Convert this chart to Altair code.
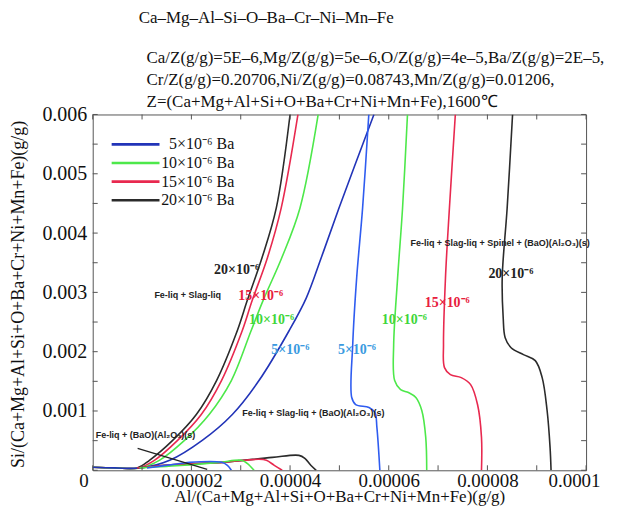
import altair as alt
import pandas as pd

# ---------------- data ----------------
S5, S10, S15, S20, S5B = "5", "10", "15", "20", "5b"

# Fe-liq + Slag-liq boundary (left family), bottom -> top
left20_x = [0.0, 4.5e-6, 9.0e-6, 11.5e-6, 16.2e-6, 21.0e-6, 25.1e-6, 29.3e-6, 31.3e-6, 34.3e-6, 37.2e-6, 40.0e-6]
left20_y = [5e-5, 4e-5, 4e-5, 1.68e-4, 5.04e-4, 9.41e-4, 1.513e-3, 2.353e-3, 2.857e-3, 3.58e-3, 4.42e-3, 6.0e-3]
left15_x = [0.0, 4.5e-6, 9.3e-6, 12.5e-6, 17.2e-6, 22.0e-6, 26.1e-6, 30.3e-6, 32.3e-6, 35.4e-6, 38.2e-6, 41.6e-6]
left15_y = [5e-5, 4e-5, 4e-5, 1.68e-4, 5.04e-4, 9.41e-4, 1.513e-3, 2.353e-3, 2.857e-3, 3.58e-3, 4.42e-3, 6.0e-3]
left10_x = [0.0, 4.5e-6, 9.6e-6, 13.5e-6, 18.6e-6, 23.6e-6, 28.1e-6, 32.1e-6, 34.5e-6, 38.3e-6, 42.0e-6, 45.7e-6]
left10_y = [5e-5, 4e-5, 4e-5, 1.68e-4, 5.04e-4, 9.41e-4, 1.513e-3, 2.353e-3, 2.857e-3, 3.58e-3, 4.42e-3, 6.0e-3]
left5_x = [0.0, 4.5e-6, 9.8e-6, 15.6e-6, 22.2e-6, 28.3e-6, 33.7e-6, 39.8e-6, 43.3e-6, 46.3e-6, 49.9e-6, 57.0e-6]
left5_y = [5e-5, 4e-5, 4e-5, 1.68e-4, 5.04e-4, 9.41e-4, 1.513e-3, 2.353e-3, 2.908e-3, 3.58e-3, 4.42e-3, 6.0e-3]

# spinel boundary (right family), top -> bottom
right5_x = [55.96e-6, 54.7e-6, 53.5e-6, 52.7e-6, 52.5e-6, 53.3e-6, 56.0e-6, 57.2e-6, 57.6e-6, 58.2e-6]
right5_y = [6.0e-3, 4.42e-3, 3.244e-3, 2.118e-3, 1.227e-3, 1.109e-3, 1.059e-3, 0.975e-3, 0.723e-3, 0.0]
right10_x = [63.8e-6, 62.8e-6, 61.8e-6, 61.0e-6, 61.2e-6, 62.4e-6, 64.0e-6, 65.5e-6, 66.7e-6, 67.5e-6, 67.7e-6]
right10_y = [6.0e-3, 4.42e-3, 3.244e-3, 2.118e-3, 1.513e-3, 1.361e-3, 1.311e-3, 1.227e-3, 1.008e-3, 0.555e-3, 0.0]
right15_x = [73.5e-6, 72.3e-6, 71.5e-6, 71.1e-6, 71.3e-6, 72.5e-6, 74.7e-6, 76.6e-6, 78.0e-6, 78.8e-6, 78.8e-6]
right15_y = [6.0e-3, 4.42e-3, 3.244e-3, 2.118e-3, 1.731e-3, 1.613e-3, 1.563e-3, 1.445e-3, 1.109e-3, 0.555e-3, 0.0]
right20_x = [85.1e-6, 84.0e-6, 83.0e-6, 83.2e-6, 83.6e-6, 84.8e-6, 87.3e-6, 89.7e-6, 91.1e-6, 92.1e-6, 92.7e-6, 92.9e-6]
right20_y = [6.0e-3, 4.42e-3, 3.244e-3, 2.571e-3, 2.235e-3, 2.067e-3, 1.95e-3, 1.849e-3, 1.563e-3, 1.008e-3, 0.387e-3, 0.0]

# (BaO)(Al2O3) boundary near the bottom, left -> right
bot20_x = [9.0e-6, 17.6e-6, 26.3e-6, 36.4e-6, 41.8e-6, 43.0e-6, 44.2e-6, 45.3e-6]
bot20_y = [4e-5, 1.01e-4, 1.34e-4, 2.18e-4, 2.52e-4, 2.02e-4, 0.84e-4, 0.0]
bot15_x = [9.0e-6, 17.6e-6, 26.3e-6, 33.7e-6, 35.2e-6, 36.8e-6, 38.4e-6]
bot15_y = [4e-5, 1.01e-4, 1.34e-4, 1.85e-4, 1.68e-4, 0.84e-4, 0.0]
bot10_x = [9.5e-6, 18.6e-6, 25.7e-6, 30.1e-6, 31.3e-6, 32.7e-6]
bot10_y = [4e-5, 0.84e-4, 1.34e-4, 1.68e-4, 1.18e-4, 0.0]
bot5_x = [11.0e-6, 16.6e-6, 19.6e-6, 26.1e-6, 27.3e-6, 28.1e-6]
bot5_y = [4e-5, 1.01e-4, 1.34e-4, 1.34e-4, 0.84e-4, 0.0]

# leader line to "Fe-liq + (BaO)(Al2O3)(s)"
leader_x = [9.1e-6, 23.2e-6]
leader_y = [0.37e-3, 0.017e-3]

# Ba labels on the curves
ba_text = ["20×10⁻⁶", "15×10⁻⁶", "10×10⁻⁶", "5×10⁻⁶", "5×10⁻⁶", "10×10⁻⁶", "15×10⁻⁶", "20×10⁻⁶"]
ba_series = [S20, S15, S10, S5, S5, S10, S15, S20]
ba_x = [24.6e-6, 29.5e-6, 31.7e-6, 36.2e-6, 49.7e-6, 58.6e-6, 67.3e-6, 80.2e-6]
ba_y = [3.38e-3, 2.94e-3, 2.54e-3, 2.03e-3, 2.03e-3, 2.54e-3, 2.82e-3, 3.31e-3]

# phase region labels
phase_text = ["Fe-liq + Slag-liq",
              "Fe-liq + Slag-liq + (BaO)(Al₂O₃)(s)",
              "Fe-liq + (BaO)(Al₂O₃)(s)",
              "Fe-liq + Slag-liq + Spinel + (BaO)(Al₂O₃)(s)"]
phase_x = [12.5e-6, 30.3e-6, 0.6e-6, 64.4e-6]
phase_y = [2.96e-3, 0.958e-3, 0.588e-3, 3.83e-3]

legend_labels = ["5×10⁻⁶  Ba", "10×10⁻⁶ Ba", "15×10⁻⁶ Ba", "20×10⁻⁶ Ba"]
legend_series = [S5, S10, S15, S20]

x_label_vals = [0.0, 0.00002, 0.00004, 0.00006, 0.00008, 0.0001]
y_label_vals = [0.001, 0.002, 0.003, 0.004, 0.005, 0.006]
x_minor = [0.0, 0.00001, 0.00002, 0.00003, 0.00004, 0.00005, 0.00006, 0.00007, 0.00008, 0.00009, 0.0001]
y_minor = [0.0, 0.0005, 0.001, 0.0015, 0.002, 0.0025, 0.003, 0.0035, 0.004, 0.0045, 0.005, 0.0055, 0.006]

title_text = "Ca–Mg–Al–Si–O–Ba–Cr–Ni–Mn–Fe"
sub_lines = ["Ca/Z(g/g)=5E–6,Mg/Z(g/g)=5e–6,O/Z(g/g)=4e–5,Ba/Z(g/g)=2E–5,",
             "Cr/Z(g/g)=0.20706,Ni/Z(g/g)=0.08743,Mn/Z(g/g)=0.01206,",
             "Z=(Ca+Mg+Al+Si+O+Ba+Cr+Ni+Mn+Fe),1600℃"]
x_title = "Al/(Ca+Mg+Al+Si+O+Ba+Cr+Ni+Mn+Fe)(g/g)"
y_title = "Si/(Ca+Mg+Al+Si+O+Ba+Cr+Ni+Mn+Fe)(g/g)"

# ---------------- build tables ----------------
curves = [
    ("L20", S20, left20_x, left20_y), ("L15", S15, left15_x, left15_y),
    ("L10", S10, left10_x, left10_y), ("L5", S5, left5_x, left5_y),
    ("R5", S5B, right5_x, right5_y), ("R10", S10, right10_x, right10_y),
    ("R15", S15, right15_x, right15_y), ("R20", S20, right20_x, right20_y),
    ("B20", S20, bot20_x, bot20_y), ("B15", S15, bot15_x, bot15_y),
    ("B10", S10, bot10_x, bot10_y), ("B5", S5B, bot5_x, bot5_y),
]
rows = []
for cid, ser, xs_, ys_ in curves:
    for i, (xv, yv) in enumerate(zip(xs_, ys_)):
        rows.append({"x": xv, "y": yv, "curve": cid, "series": ser, "ord": i})
df = pd.DataFrame(rows)

W, H = 495, 357
TOP = 106
SERIF = "Liberation Serif"
SANS = "Liberation Sans"
FRAME = "#555555"

line_colors = {S5: "#2234b8", S10: "#4de84a", S15: "#e8294f", S20: "#2b2b2b", S5B: "#2f5cf0"}
label_colors = {S5: "#3a9ae0", S10: "#3fd63a", S15: "#e8203c", S20: "#222222"}

xs = alt.Scale(domain=[0, 0.0001], nice=False, zero=False)
ys = alt.Scale(domain=[0, 0.006], nice=False, zero=False)

X_AX = alt.Axis(values=x_label_vals, format=".5~f", title=x_title, titleY=31, titleFontSize=17,
                titleBaseline="alphabetic", labelFlush=True, labelFlushOffset=14,
                labelPadding=1, labelFontSize=19)
Y_AX = alt.Axis(values=y_label_vals, format=".3~f", title=y_title, titleX=-74, titleY=180,
                titleFontSize=18, titleBaseline="middle", labelFlush=False)


def X(field):
    return alt.X(field, scale=xs, axis=X_AX)


def Y(field):
    return alt.Y(field, scale=ys, axis=Y_AX)


lines = alt.Chart(df).mark_line(strokeWidth=1.6, interpolate="catmull-rom", clip=True).encode(
    x=X("x:Q"),
    y=Y("y:Q"),
    color=alt.Color("series:N", scale=alt.Scale(domain=list(line_colors.keys()),
                                                range=list(line_colors.values())), legend=None),
    detail="curve:N",
    order="ord:Q",
)

leader = alt.Chart(pd.DataFrame({"x": leader_x, "y": leader_y})).mark_line(
    color="#222222", strokeWidth=1.3).encode(x=X("x:Q"), y=Y("y:Q"))

layers = [lines, leader]

ba_df = pd.DataFrame({"t": ba_text, "s": ba_series, "x": ba_x, "y": ba_y})
for s, col in label_colors.items():
    layers.append(alt.Chart(ba_df[ba_df.s == s]).mark_text(
        font=SERIF, fontSize=14, fontWeight="bold", color=col, align="left", baseline="middle").encode(
        x=X("x:Q"), y=Y("y:Q"), text="t:N"))

ph_df = pd.DataFrame({"t": phase_text, "x": phase_x, "y": phase_y})
layers.append(alt.Chart(ph_df).mark_text(
    font=SANS, fontSize=9, fontWeight="bold", color="#222222", align="left", baseline="middle").encode(
    x=X("x:Q"), y=Y("y:Q"), text="t:N"))

# inward ticks on all four sides
xm = pd.DataFrame({"x": x_minor})
ym = pd.DataFrame({"y": y_minor})
layers.append(alt.Chart(xm).mark_rule(color=FRAME).encode(
    x=X("x:Q"), y=alt.value(H), y2=alt.value(H - 5)))
layers.append(alt.Chart(xm).mark_rule(color=FRAME).encode(
    x=X("x:Q"), y=alt.value(0), y2=alt.value(5)))
layers.append(alt.Chart(ym).mark_rule(color=FRAME).encode(
    y=Y("y:Q"), x=alt.value(0), x2=alt.value(5)))
layers.append(alt.Chart(ym).mark_rule(color=FRAME).encode(
    y=Y("y:Q"), x=alt.value(W), x2=alt.value(W - 5)))

# legend (drawn by hand, top-left inside the plot); page y of first entry = 144
for i, (lab, ser) in enumerate(zip(legend_labels, legend_series)):
    yy = (144 - 8 - TOP) + 18.7 * i
    one = pd.DataFrame({"t": [lab]})
    layers.append(alt.Chart(one).mark_rule(color=line_colors[ser], strokeWidth=2.6).encode(
        x=alt.value(19), x2=alt.value(67), y=alt.value(yy)))
    layers.append(alt.Chart(one).mark_text(
        font=SERIF, fontSize=16, color="#111111", align="right", baseline="middle").encode(
        x=alt.value(142), y=alt.value(yy), text="t:N"))

# title and the three condition lines above the plot (page y 17, 57, 80, 102)
layers.append(alt.Chart(pd.DataFrame({"t": [title_text]})).mark_text(
    font=SERIF, fontSize=17, color="#111111", align="center", baseline="middle").encode(
    x=alt.value(174), y=alt.value(17 - 8 - TOP), text="t:N"))
for i, line in enumerate(sub_lines):
    layers.append(alt.Chart(pd.DataFrame({"t": [line]})).mark_text(
        font=SERIF, fontSize=17, color="#111111", align="left", baseline="middle").encode(
        x=alt.value(54), y=alt.value(57 - 8 - TOP + 22.5 * i), text="t:N"))

chart = alt.layer(*layers).properties(
    width=W, height=H,
    autosize=alt.AutoSizeParams(type="none"),
    padding={"left": 85, "top": TOP, "right": 24, "bottom": 499 - TOP - H},
).configure_view(stroke=FRAME, strokeWidth=1).configure_axis(
    labelFont=SERIF, labelFontSize=20, labelColor="#111111",
    titleFont=SERIF, titleFontSize=19, titleFontWeight="normal", titleColor="#111111",
    ticks=False, tickSize=0, domain=False, grid=False, labelPadding=6,
)

chart.save("out.html", embed_options={"renderer": "svg", "actions": False})
